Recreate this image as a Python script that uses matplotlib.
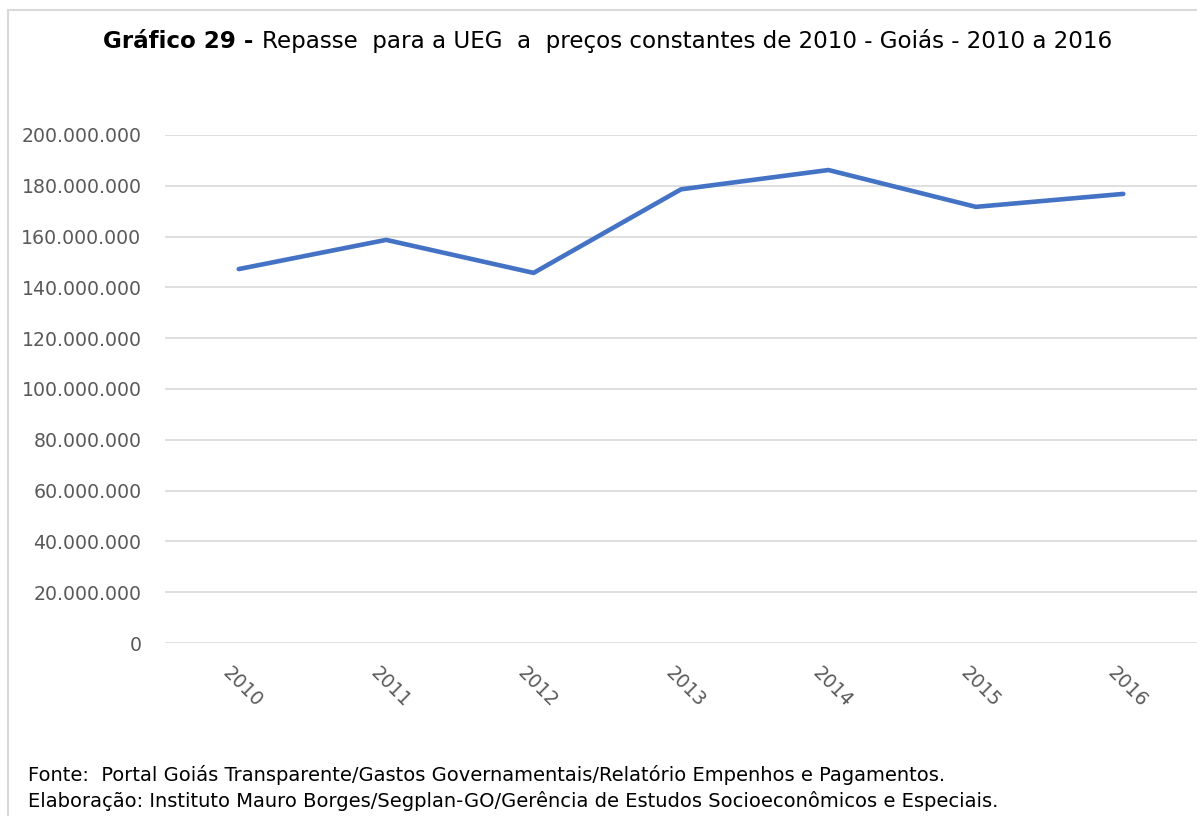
import matplotlib
matplotlib.use("Agg")
import matplotlib.pyplot as plt
import matplotlib.transforms as mtransforms
from matplotlib.patches import Rectangle
from matplotlib.ticker import FuncFormatter

anos = ["2010", "2011", "2012", "2013", "2014", "2015", "2016"]
repasse = [147.2e6, 158.7e6, 145.7e6, 178.6e6, 186.2e6, 171.7e6, 176.8e6]
yticks = list(range(0, 200000001, 20000000))

fonte_txt = ["DejaVu Sans"]
cinza = "#595959"
W, H = 1197, 816

fig = plt.figure(figsize=(W / 100, H / 100), dpi=100)
ax = fig.add_axes([165 / W, 0.212, 1 - 165 / W, 0.6226])

ax.plot(range(len(anos)), repasse, color="#4472C4", linewidth=3.3,
        solid_joinstyle="round", solid_capstyle="round")

ax.set_xlim(-0.5, len(anos) - 0.5)
ax.set_ylim(0, 200000000)
ax.set_yticks(yticks)
ax.yaxis.set_major_formatter(FuncFormatter(lambda v, p: f"{int(v):,}".replace(",", ".")))
ax.set_xticks(range(len(anos)))
ax.set_xticklabels(anos, rotation=-45, ha="left", va="top", rotation_mode="anchor")

ax.grid(axis="y", color="#d9d9d9", linewidth=1.2)
ax.set_axisbelow(True)
for s in ax.spines.values():
    s.set_visible(False)
ax.tick_params(length=0, colors=cinza, labelsize=13.6)
ax.tick_params(axis="y", pad=17)
ax.tick_params(axis="x", pad=15)

# desloca um pouco os rótulos dos anos para a esquerda
desloc = mtransforms.ScaledTranslation(-6 / 100, 0, fig.dpi_scale_trans)
for lbl in ax.get_xticklabels():
    lbl.set_transform(lbl.get_transform() + desloc)

# moldura do gráfico
fig.patches.append(Rectangle((8 / W, -0.1), 1.2, (H - 10) / H + 0.1,
                             transform=fig.transFigure, fill=False,
                             edgecolor="#d9d9d9", linewidth=1.5))

# título: parte em negrito + parte normal, centrado em x~607
ty = 1 - 40 / H
t1 = fig.text(0, ty, "Gráfico 29 - ", ha="left", va="baseline",
              fontsize=16.6, fontweight="bold", family=fonte_txt)
t2 = fig.text(0, ty, "Repasse  para a UEG  a  preços constantes de 2010 - Goiás - 2010 a 2016",
              ha="left", va="baseline", fontsize=16.6, family=fonte_txt)
fig.canvas.draw()
w1 = t1.get_window_extent().width
w2 = t2.get_window_extent().width
x0 = 607.5 - (w1 + w2) / 2
t1.set_x(x0 / W)
t2.set_x((x0 + w1) / W)
t1.set_y(1 - 48 / H)
t2.set_y(1 - 48 / H)

fig.text(28 / W, 1 - 775 / H,
         "Fonte:  Portal Goiás Transparente/Gastos Governamentais/Relatório Empenhos e Pagamentos.",
         ha="left", va="center", fontsize=14, family=fonte_txt)
fig.text(28 / W, 1 - 801 / H,
         "Elaboração: Instituto Mauro Borges/Segplan-GO/Gerência de Estudos Socioeconômicos e Especiais.",
         ha="left", va="center", fontsize=14, family=fonte_txt)

fig.savefig("out.png", dpi=100, facecolor="white")
